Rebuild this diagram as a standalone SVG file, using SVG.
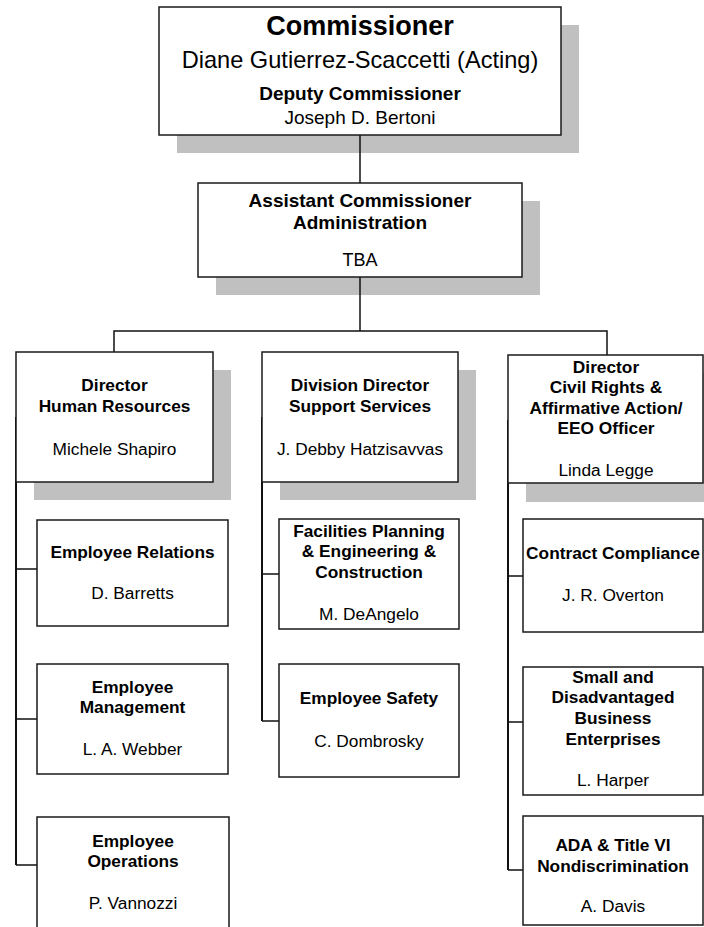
<svg xmlns="http://www.w3.org/2000/svg" width="704" height="927" viewBox="0 0 704 927">
<style>
.bg{fill:#ffffff}
.sh{fill:#c0c0c0}
.box{fill:#ffffff;stroke:#1a1a1a;stroke-width:1.5}
.t{font-family:"Liberation Sans",Arial,sans-serif;fill:#000;text-anchor:middle}
.b{font-weight:bold}
.s17{font-size:17.3px}
.c{fill:none;stroke:#111;stroke-width:1.5}
.v{fill:none;stroke:#111;stroke-width:2}
</style>
<rect class="bg" x="0" y="0" width="704" height="927"/>
<g id="shadows">
<rect class="sh" x="177" y="25" width="402" height="128"/>
<rect class="sh" x="216" y="201" width="324" height="94"/>
<rect class="sh" x="34" y="370" width="197" height="130"/>
<rect class="sh" x="280" y="370" width="196" height="130"/>
<rect class="sh" x="526" y="373" width="195" height="129"/>
</g>
<g id="connectors">
<path class="c" d="M360 135V183"/>
<path class="c" d="M360 277V331"/>
<path class="c" d="M114 352V331H607V355"/>
<path class="v" d="M16 417V865"/>
<path class="c" d="M16 569H37M16 719H37M16 865H37"/>
<path class="v" d="M262 417V721"/>
<path class="c" d="M262 574H279M262 721H279"/>
<path class="v" d="M508 420V870"/>
<path class="c" d="M508 576H523M508 722H523M508 870H523"/>
</g>
<g id="commissioner">
<rect class="box" x="159" y="7" width="402" height="128"/>
<text class="t b" x="360" y="35" font-size="27">Commissioner</text>
<text class="t" x="360" y="68" font-size="23.6">Diane Gutierrez-Scaccetti (Acting)</text>
<text class="t b" x="360" y="100" font-size="19">Deputy Commissioner</text>
<text class="t" x="360" y="124" font-size="19">Joseph D. Bertoni</text>
</g>
<g id="assistant">
<rect class="box" x="198" y="183" width="324" height="94"/>
<text class="t b" x="360" y="207" font-size="19">Assistant Commissioner</text>
<text class="t b" x="360" y="229" font-size="19">Administration</text>
<text class="t" x="360" y="266" font-size="18">TBA</text>
</g>
<g id="hr">
<rect class="box" x="16" y="352" width="197" height="130"/>
<text class="t b s17" x="114.5" y="391">Director</text>
<text class="t b s17" x="114.5" y="412">Human Resources</text>
<text class="t s17" x="114.5" y="455">Michele Shapiro</text>
</g>
<g id="support">
<rect class="box" x="262" y="352" width="196" height="130"/>
<text class="t b s17" x="360" y="391">Division Director</text>
<text class="t b s17" x="360" y="412">Support Services</text>
<text class="t s17" x="360" y="455">J. Debby Hatzisavvas</text>
</g>
<g id="civil">
<rect class="box" x="508" y="355" width="195" height="128"/>
<text class="t b s17" x="606" y="373">Director</text>
<text class="t b s17" x="606" y="393">Civil Rights &amp;</text>
<text class="t b s17" x="606" y="414">Affirmative Action/</text>
<text class="t b s17" x="606" y="434">EEO Officer</text>
<text class="t s17" x="606" y="476">Linda Legge</text>
</g>
<g id="employee-relations">
<rect class="box" x="37" y="520" width="191" height="106"/>
<text class="t b s17" x="132.5" y="558">Employee Relations</text>
<text class="t s17" x="132.5" y="599">D. Barretts</text>
</g>
<g id="employee-management">
<rect class="box" x="37" y="664" width="191" height="110"/>
<text class="t b s17" x="132.5" y="693">Employee</text>
<text class="t b s17" x="132.5" y="713">Management</text>
<text class="t s17" x="132.5" y="755">L. A. Webber</text>
</g>
<g id="employee-operations">
<rect class="box" x="37" y="817" width="192" height="120"/>
<text class="t b s17" x="133" y="847">Employee</text>
<text class="t b s17" x="133" y="867">Operations</text>
<text class="t s17" x="133" y="909">P. Vannozzi</text>
</g>
<g id="facilities">
<rect class="box" x="279" y="519" width="180" height="110"/>
<text class="t b s17" x="369" y="537">Facilities Planning</text>
<text class="t b s17" x="369" y="557">&amp; Engineering &amp;</text>
<text class="t b s17" x="369" y="578">Construction</text>
<text class="t s17" x="369" y="620">M. DeAngelo</text>
</g>
<g id="employee-safety">
<rect class="box" x="279" y="664" width="180" height="113"/>
<text class="t b s17" x="369" y="704">Employee Safety</text>
<text class="t s17" x="369" y="747">C. Dombrosky</text>
</g>
<g id="contract-compliance">
<rect class="box" x="523" y="519" width="180" height="113"/>
<text class="t b s17" x="613" y="559">Contract Compliance</text>
<text class="t s17" x="613" y="601">J. R. Overton</text>
</g>
<g id="small-business">
<rect class="box" x="523" y="667" width="180" height="128"/>
<text class="t b s17" x="613" y="683">Small and</text>
<text class="t b s17" x="613" y="703">Disadvantaged</text>
<text class="t b s17" x="613" y="724">Business</text>
<text class="t b s17" x="613" y="745">Enterprises</text>
<text class="t s17" x="613" y="786">L. Harper</text>
</g>
<g id="ada">
<rect class="box" x="523" y="816" width="180" height="109"/>
<text class="t b s17" x="613" y="851">ADA &amp; Title VI</text>
<text class="t b s17" x="613" y="872">Nondiscrimination</text>
<text class="t s17" x="613" y="912">A. Davis</text>
</g>
</svg>
